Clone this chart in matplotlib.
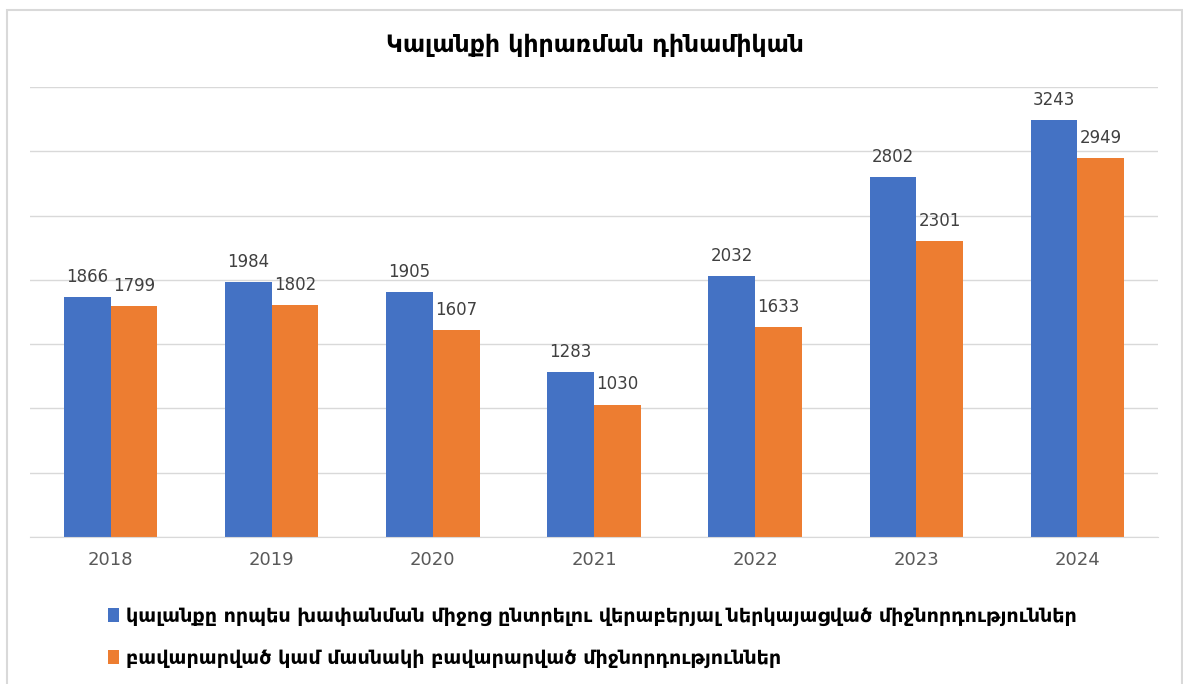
import numpy as np
import matplotlib.pyplot as plt
from matplotlib.patches import Rectangle

years = ['2018', '2019', '2020', '2021', '2022', '2023', '2024']
requests = [1866, 1984, 1905, 1283, 2032, 2802, 3243]
satisfied = [1799, 1802, 1607, 1030, 1633, 2301, 2949]
labels = ['կալանքը որպես խափանման միջոց ընտրելու վերաբերյալ ներկայացված միջնորդություններ',
          'բավարարված կամ մասնակի բավարարված միջնորդություններ']
title = 'Կալանքի կիրառման դինամիկան'

blue = '#4472c4'
orange = '#ed7d31'

plt.rcParams['font.family'] = ['DejaVu Sans']

W, H = 1183, 684
fig = plt.figure(figsize=(W / 100, H / 100), dpi=100)
ax = fig.add_axes([30 / W, 1 - 537 / H, 1128 / W, 450 / H])

x = np.arange(len(years))
w = 0.29
b1 = ax.bar(x - w / 2, requests, w, color=blue, label=labels[0], zorder=3)
b2 = ax.bar(x + w / 2, satisfied, w, color=orange, label=labels[1], zorder=3)

# data labels above bars
for bars in (b1, b2):
    for rect in bars:
        ax.annotate(f'{int(rect.get_height())}',
                    (rect.get_x() + rect.get_width() / 2, rect.get_height()),
                    xytext=(0, 8), textcoords='offset points',
                    ha='center', va='bottom', fontsize=12, color='#404040')

ax.set_xlim(-0.5, len(years) - 0.5)
ax.set_ylim(0, 3500)
ax.set_yticks(np.arange(0, 3501, 500))
ax.yaxis.grid(True, color='#d9d9d9', linewidth=1, zorder=0)
ax.set_xticks(x)
ax.set_xticklabels(years, fontsize=13, color='#595959')
ax.tick_params(axis='x', length=0, pad=10)
ax.tick_params(axis='y', length=0, labelleft=False)
for s in ['top', 'right', 'left']:
    ax.spines[s].set_visible(False)
ax.spines['bottom'].set_color('#d9d9d9')
ax.spines['bottom'].set_zorder(4)

fig.text(595 / W, 1 - 45 / H, title, ha='center', va='center',
         fontsize=17, fontweight='bold', color='black')

fig.legend(handles=[b1, b2], labels=labels, loc='upper left',
           bbox_to_anchor=(100 / W, 1 - 599 / H), frameon=False,
           prop={'size': 13.8, 'weight': 'bold'}, handlelength=0.6,
           handleheight=0.8, handletextpad=0.35, labelspacing=1.2,
           borderaxespad=0)

# outer chart frame
fig.add_artist(Rectangle((7 / W, -0.05), 1175 / W, 1 - 10 / H + 0.05,
                         transform=fig.transFigure, fill=False,
                         edgecolor='#d9d9d9', linewidth=1.5))

fig.savefig('out.png', dpi=100)
